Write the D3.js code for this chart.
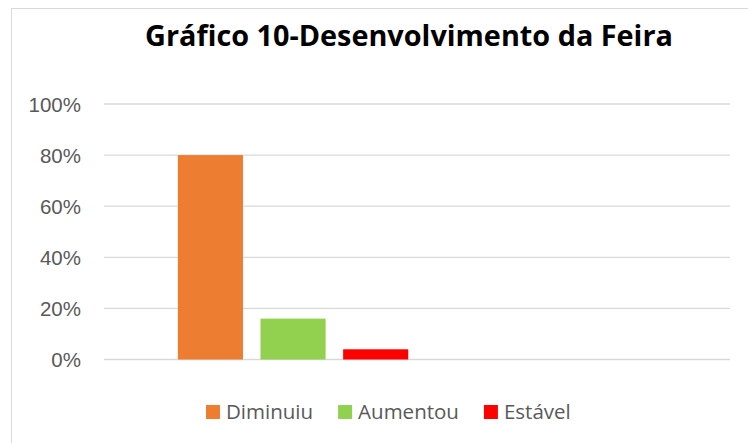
<!DOCTYPE html>
<html lang="pt">
<head>
    <meta charset="utf-8">
    <title>Gráfico 10-Desenvolvimento da Feira</title>
    <script type="text/javascript" src="https://d3js.org/d3.v7.min.js"></script>
    <style type="text/css">
        body { margin: 0; background: #fff; }
        svg { font-family: "Open Sans", "Noto Sans", sans-serif; }
    </style>
</head>
<body>
<script type="text/javascript">

    var series = ["Diminuiu", "Aumentou", "Estável"];
    var values = [0.80, 0.16, 0.04];
    var colors = ["#ED7D31", "#92D050", "#FF0000"];
    var yTicks = [0, 0.2, 0.4, 0.6, 0.8, 1.0];
    var title = "Gráfico 10-Desenvolvimento da Feira";

    var width = 748, height = 443;
    var plot = { left: 104, right: 730, top: 104, bottom: 359.5 };

    var svg = d3.select("body")
        .append("svg")
        .attr("width", width)
        .attr("height", height);

    // chart area border (runs off the right and bottom edge)
    svg.append("rect")
        .attr("x", 11.5).attr("y", 8.5)
        .attr("width", 760).attr("height", 460)
        .attr("fill", "#fff")
        .attr("stroke", "#d9d9d9")
        .attr("stroke-width", 1);

    var y = d3.scaleLinear()
        .domain([0, 1])
        .range([plot.bottom, plot.top]);

    // the bars fill the first half of the plot width
    var half = (plot.right - plot.left) / 2;
    var x = d3.scaleBand()
        .domain(series)
        .range([plot.left + half * 0.208, plot.left + half])
        .paddingInner(0.212)
        .paddingOuter(0.106);

    // gridlines
    svg.append("g")
        .selectAll("line")
        .data(yTicks)
        .enter()
        .append("line")
        .attr("x1", plot.left).attr("x2", plot.right)
        .attr("y1", function(d) { return y(d); })
        .attr("y2", function(d) { return y(d); })
        .attr("stroke", "#d9d9d9")
        .attr("stroke-width", 1.3);

    // y axis labels
    var yAxis = d3.axisLeft(y)
        .tickValues(yTicks)
        .tickFormat(d3.format(".0%"))
        .tickSize(0)
        .tickPadding(0);
    var ya = svg.append("g")
        .attr("transform", "translate(81,0)")
        .call(yAxis);
    ya.select(".domain").remove();
    ya.selectAll("text")
        .attr("fill", "#595959")
        .attr("dy", "0.36em")
        .style("font-size", "20.5px");

    // bars
    svg.append("g")
        .selectAll("rect")
        .data(series)
        .enter()
        .append("rect")
        .attr("x", function(d) { return x(d); })
        .attr("width", x.bandwidth())
        .attr("y", function(d, i) { return y(values[i]); })
        .attr("height", function(d, i) { return y(0) - y(values[i]); })
        .attr("fill", function(d, i) { return colors[i]; });

    // title, fitted to the width of the original
    var t = svg.append("text")
        .attr("x", 409)
        .attr("y", 46)
        .attr("text-anchor", "middle")
        .attr("font-weight", "bold")
        .attr("fill", "#000")
        .style("font-size", "27px")
        .text(title);
    var tw = t.node().getComputedTextLength();
    t.style("font-size", (27 * 528 / tw) + "px");

    // legend
    var legend = svg.append("g");
    var lx = 206;
    series.forEach(function(s, i) {
        legend.append("rect")
            .attr("x", lx).attr("y", 405)
            .attr("width", 14).attr("height", 14)
            .attr("fill", colors[i]);
        var lt = legend.append("text")
            .attr("x", lx + 20)
            .attr("y", 419)
            .attr("fill", "#595959")
            .style("font-size", "20.5px")
            .text(s);
        lx += 20 + lt.node().getComputedTextLength() + 25;
    });

</script>
</body>
</html>
